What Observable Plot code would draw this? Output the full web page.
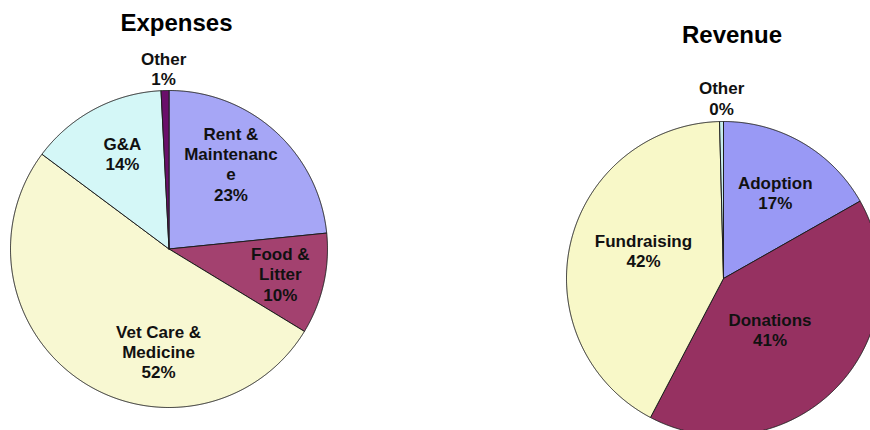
<!DOCTYPE html>
<html><head><meta charset="utf-8">
<script src="https://cdn.jsdelivr.net/npm/d3@7"></script>
<script src="https://cdn.jsdelivr.net/npm/@observablehq/plot@0.6"></script>
<style>
html,body{margin:0;padding:0;background:#fff;overflow:hidden;}
#chart svg{display:block;overflow:hidden;}
</style></head><body><div id="chart"></div>
<script>
// ---- Data ----
const chartTitles = ["Expenses", "Revenue"];
const expenseCategories = ["Rent & Maintenance", "Food & Litter", "Vet Care & Medicine", "G&A", "Other"];
const expenseLabelText = ["Rent &\nMaintenanc\ne", "Food &\nLitter", "Vet Care &\nMedicine", "G&A", "Other"];
const expenseValues = [23.4, 10.3, 51.5, 14.0, 0.8];
const revenueCategories = ["Adoption", "Donations", "Fundraising", "Other"];
const revenueLabelText = ["Adoption", "Donations", "Fundraising", "Other"];
const revenueValues = [16.8, 40.9, 41.9, 0.4];

// ---- Styles ----
const expenseColors = ["#a6a6f6", "#a3416f", "#f8f8d2", "#d4f7f7", "#6a0f6a"];
const revenueColors = ["#9999f5", "#963161", "#f8f8c8", "#c8eeee"];

// ---- Layout ----
const W = 870, H = 430;
const FONT = "'Liberation Sans', Arial, Helvetica, sans-serif";
const pies = [
  {title: chartTitles[0], cats: expenseCategories, labels: expenseLabelText, values: expenseValues, colors: expenseColors,
   cx: 168.5, cy: 248.5, r: 158.5, tx: 176, ty: 23,
   place: [[36, 0.665], [102.6, 0.72], [185.8, 0.65], [334, 0.67], [358.3, 1.14]]},
  {title: chartTitles[1], cats: revenueCategories, labels: revenueLabelText, values: revenueValues, colors: revenueColors,
   cx: 723, cy: 278, r: 157, tx: 731.5, ty: 35,
   place: [[31, 0.64], [137.7, 0.44], [289.3, 0.54], [359.4, 1.15]]}
];

const slicePts = [];
const labelRows = [];
const titleRows = [];
const rad = Math.PI / 180;
pies.forEach((p, pi) => {
  const total = d3.sum(p.values);
  let acc = 0;
  p.values.forEach((v, i) => {
    const a0 = acc / total * 2 * Math.PI;
    acc += v;
    const a1 = acc / total * 2 * Math.PI;
    const key = pi + ":" + p.cats[i];
    const color = p.colors[i];
    slicePts.push({key, color, x: p.cx, y: p.cy});
    const n = Math.max(2, Math.ceil((a1 - a0) / (0.25 * rad)));
    for (let k = 0; k <= n; k++) {
      const a = a0 + (a1 - a0) * k / n;
      slicePts.push({key, color, x: p.cx + p.r * Math.sin(a), y: p.cy - p.r * Math.cos(a)});
    }
    slicePts.push({key, color, x: p.cx, y: p.cy});
    const [ang, f] = p.place[i];
    labelRows.push({
      x: p.cx + f * p.r * Math.sin(ang * rad),
      y: p.cy - f * p.r * Math.cos(ang * rad),
      text: p.labels[i] + "\n" + Math.round(v) + "%"
    });
  });
  titleRows.push({x: p.tx, y: p.ty, text: p.title});
});

const chart = Plot.plot({
  width: W, height: H, margin: 0,
  style: {fontFamily: FONT, background: "#fff"},
  x: {domain: [0, W], range: [0, W], axis: null},
  y: {domain: [0, H], range: [0, H], axis: null},
  color: {type: "identity"},
  marks: [
    Plot.line(slicePts, {x: "x", y: "y", z: "key", fill: "color", stroke: "#1e1e1e", strokeWidth: 1, strokeLinejoin: "round", clip: true}),
    Plot.text(labelRows, {x: "x", y: "y", text: "text", fontSize: 17, fontWeight: "bold", lineHeight: 1.2, fill: "#111", fontFamily: FONT}),
    Plot.text(titleRows, {x: "x", y: "y", text: "text", fontSize: 24, fontWeight: "bold", fill: "#000", fontFamily: FONT})
  ]
});
document.getElementById("chart").appendChild(chart);
</script>
</body></html>
